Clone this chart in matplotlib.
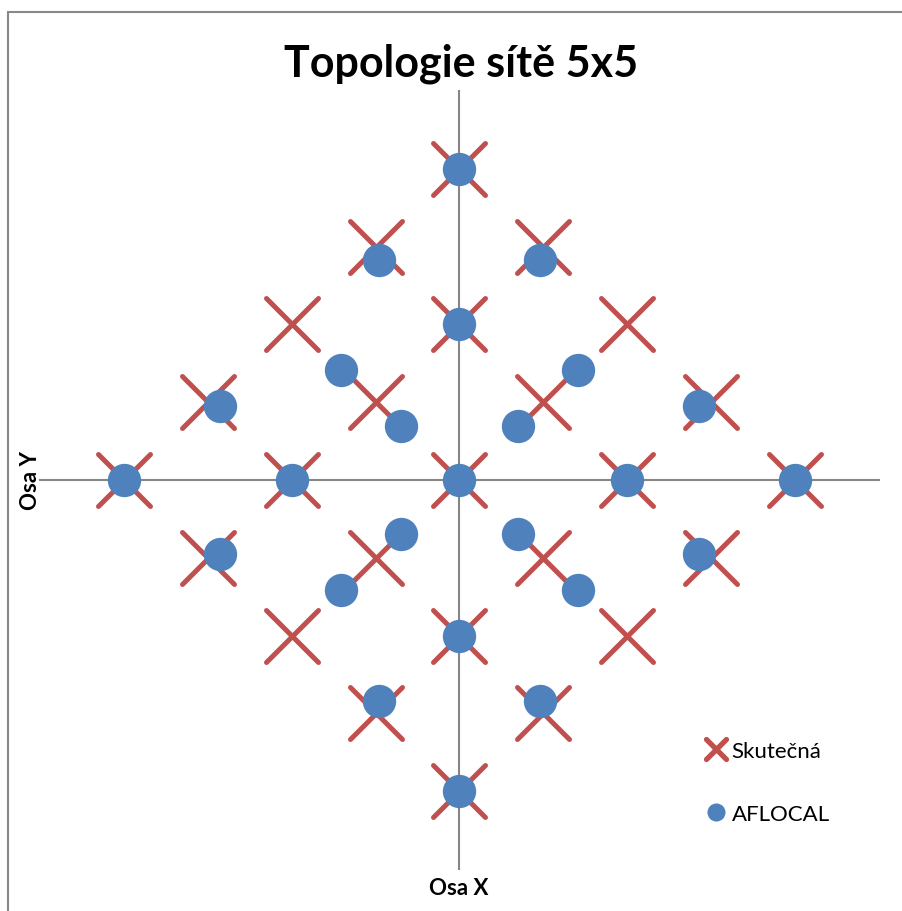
## Topologie site 5x5: skutecne pozice uzlu vs. odhad AFLOCAL

import matplotlib
matplotlib.use("Agg")
import matplotlib.pyplot as plt
from matplotlib.lines import Line2D
from matplotlib.markers import MarkerStyle
from matplotlib.patches import Rectangle

plt.rcParams['font.family'] = ['Lato', 'DejaVu Sans']

## Data

# skutecne pozice uzlu (mrizka 5x5 otocena o 45 stupnu)
real_x = [0, -1, 1, -2, 0, 2, -3, -1, 1, 3, -4, -2, 0, 2, 4, -3, -1, 1, 3, -2, 0, 2, -1, 1, 0]
real_y = [4, 3, 3, 2, 2, 2, 1, 1, 1, 1, 0, 0, 0, 0, 0, -1, -1, -1, -1, -2, -2, -2, -3, -3, -4]

# odhad AFLOCAL
est_x = [0, -0.96, 0.96, 0, -1.41, 1.41, -2.85, -0.7, 0.7, 2.85, -4, -2, 0, 2, 4,
         -0.7, 0.7, -2.85, 2.85, -1.41, 1.41, 0, -0.96, 0.96, 0]
est_y = [4, 2.83, 2.83, 2, 1.42, 1.42, 0.95, 0.7, 0.7, 0.95, 0, 0, 0, 0, 0,
         -0.7, -0.7, -0.95, -0.95, -1.42, -1.42, -2, -2.84, -2.84, -4]

series_labels = ['Skutečná', 'AFLOCAL']
title = 'Topologie sítě 5x5'

RED = '#C0504D'
BLUE = '#4F81BD'
GRAY = '#868686'

## End of Data

fig = plt.figure(figsize=(9.03, 9.12), dpi=100)
ax = fig.add_axes([40 / 903, 42 / 912, 839 / 903, 778 / 912])

x_mark = MarkerStyle('x', capstyle='round')
ax.plot(real_x, real_y, linestyle='none', marker=x_mark, ms=37, mew=3.6,
        color=RED, zorder=3)
ax.plot(est_x, est_y, linestyle='none', marker='o', ms=24, mew=0,
        color=BLUE, zorder=4)

ax.set_xlim(-5, 5)
ax.set_ylim(-5, 5)

# osy krizem pres stred
for side in ['left', 'bottom']:
    ax.spines[side].set_position('zero')
    ax.spines[side].set_color(GRAY)
    ax.spines[side].set_linewidth(1.5)
for side in ['top', 'right']:
    ax.spines[side].set_visible(False)
ax.set_xticks([])
ax.set_yticks([])
ax.patch.set_visible(False)

fig.text(461 / 903, 1 - 64 / 912, title, ha='center', va='center',
         fontsize=31, fontweight='bold')
fig.text(31 / 903, 1 - 481 / 912, 'Osa Y', ha='center', va='center',
         rotation=90, fontsize=16, fontweight='bold')
fig.text(459 / 903, 1 - 889 / 912, 'Osa X', ha='center', va='center',
         fontsize=16, fontweight='bold')

handles = [
    Line2D([], [], linestyle='none', marker=x_mark, ms=15, mew=3.8, color=RED),
    Line2D([], [], linestyle='none', marker='o', ms=13, mew=0, color=BLUE),
]
fig.legend(handles, series_labels, loc='upper left',
           bbox_to_anchor=(706 / 903, 1 - 742 / 912), frameon=False,
           fontsize=16, handlelength=0.9, handletextpad=0.25, labelspacing=1.93,
           borderaxespad=0, borderpad=0)

# ramecek grafu
fig.patches.append(Rectangle((8 / 903, -0.05), 1.0, 1.05 - 12.5 / 912,
                             transform=fig.transFigure, fill=False,
                             edgecolor='#888888', linewidth=1.5))

fig.savefig('out.png', dpi=100)
